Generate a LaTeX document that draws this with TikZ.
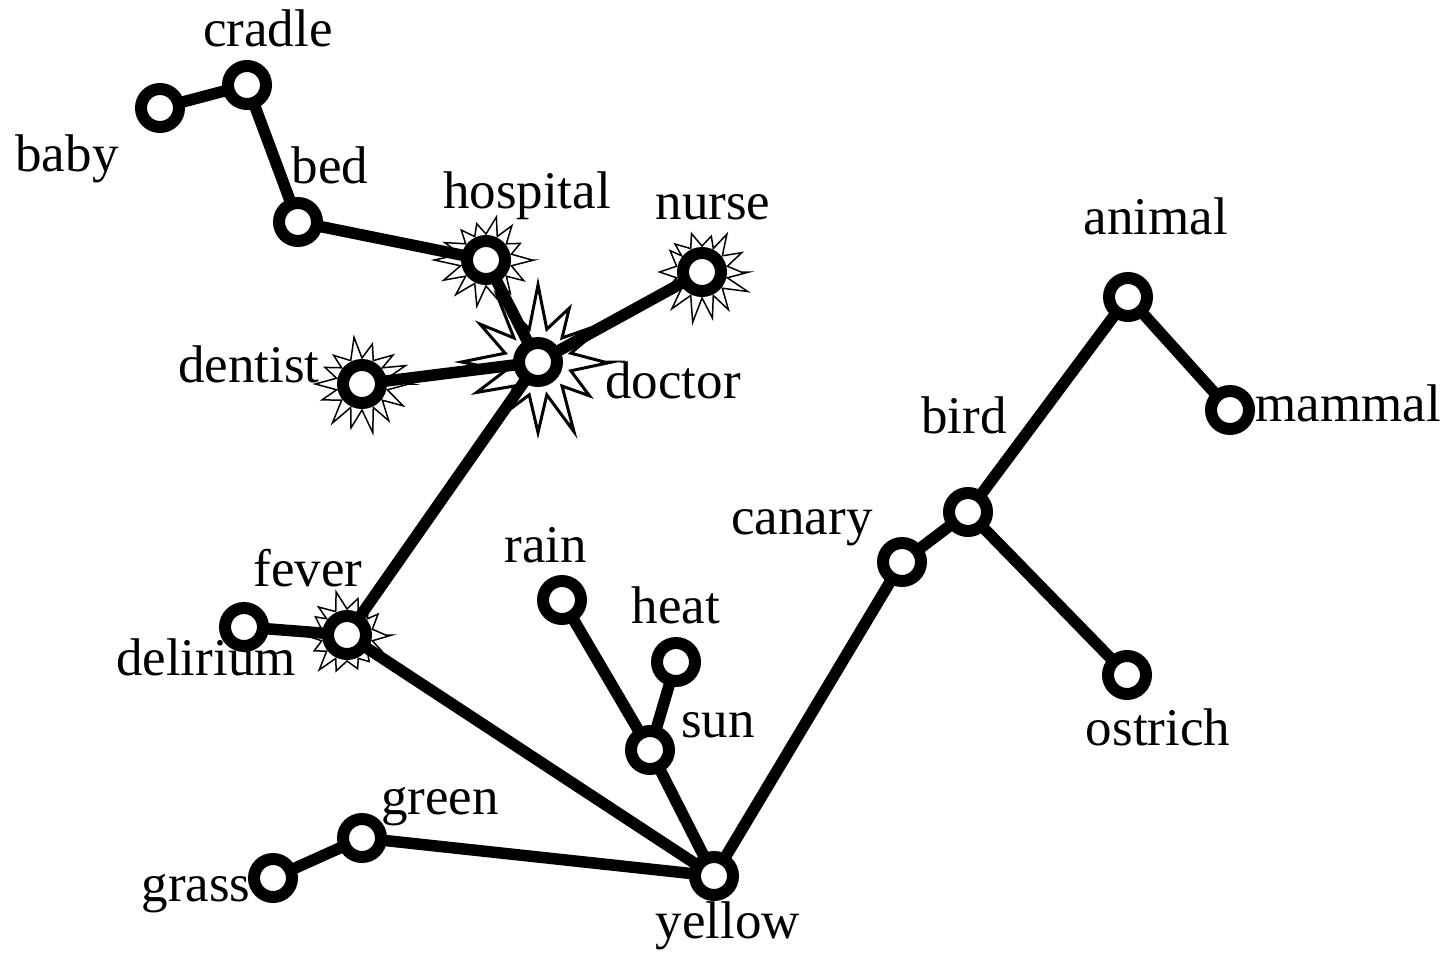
\documentclass[tikz,border=0pt]{standalone}
\usepackage{fontspec}
\setmainfont{Liberation Serif}
\usetikzlibrary{calc}
\pgfdeclarelayer{stars}
\pgfdeclarelayer{bg}
\pgfsetlayers{stars,bg,main}
\tikzset{
  vert/.style={circle,draw=black,fill=white,line width=12pt,inner sep=0pt,minimum size=38pt},
  lbl/.style={inner sep=0pt,font=\fontsize{53}{60}\selectfont},
  edge/.style={line width=11.5pt,black},
  burst/.style={draw=black,fill=white,line width=1.5pt,line join=miter},
}
\newcommand{\myburst}[5]{% center, inner r, outer r, points, seed
  \pgfmathsetseed{#5}
  \draw[burst] ($(#1)+(0:#3)$)
    \foreach \i in {1,...,#4} {
      -- ($(#1)+({(\i-0.5)*360/#4}:{#2})$)
      -- ($(#1)+({\i*360/#4}:{#3*(0.75+0.35*rnd)})$)
    } -- cycle;
}
\begin{document}
\begin{tikzpicture}[x=1pt,y=-1pt]
\useasboundingbox (0,0) rectangle (1451,953);
% vertices
\node[vert] (baby) at (160,108) {};
\node[vert] (cradle) at (247,85) {};
\node[vert] (bed) at (298,222) {};
\node[vert] (hospital) at (486,260) {};
\node[vert] (nurse) at (702,272) {};
\node[vert] (doctor) at (538,362) {};
\node[vert] (dentist) at (362,384) {};
\node[vert] (fever) at (347,635) {};
\node[vert] (delirium) at (244,627) {};
\node[vert] (rain) at (562,600) {};
\node[vert] (heat) at (676,662) {};
\node[vert] (sun) at (650,750) {};
\node[vert] (green) at (362,838) {};
\node[vert] (grass) at (273,878) {};
\node[vert] (yellow) at (714,876) {};
\node[vert] (canary) at (902,562) {};
\node[vert] (bird) at (968,512) {};
\node[vert] (animal) at (1128,297) {};
\node[vert] (mammal) at (1230,410) {};
\node[vert] (ostrich) at (1127,675) {};
% labels
\node[lbl] (lbaby) at (67,159) {baby};
\node[lbl] (lcradle) at (268,28) {cradle};
\node[lbl] (lbed) at (330,165) {bed};
\node[lbl] (lhospital) at (527,196) {hospital};
\node[lbl] (lnurse) at (713,207) {nurse};
\node[lbl] (ldoctor) at (673,380) {doctor};
\node[lbl] (ldentist) at (249,364) {dentist};
\node[lbl] (lfever) at (308,568) {fever};
\node[lbl] (ldelirium) at (206,657) {delirium};
\node[lbl] (lrain) at (546,545) {rain};
\node[lbl] (lheat) at (676,605) {heat};
\node[lbl] (lsun) at (718,725) {sun};
\node[lbl] (lgreen) at (440,807) {green};
\node[lbl] (lgrass) at (196,894) {grass};
\node[lbl] (lyellow) at (728,926) {yellow};
\node[lbl] (lcanary) at (802,528) {canary};
\node[lbl] (lbird) at (964,415) {bird};
\node[lbl] (lanimal) at (1156,216) {animal};
\node[lbl] (lmammal) at (1348,403) {mammal};
\node[lbl] (lostrich) at (1158,727) {ostrich};
% edges
\begin{pgfonlayer}{bg}
\draw[edge] (baby.center) -- (cradle.center);
\draw[edge] (cradle.center) -- (bed.center);
\draw[edge] (bed.center) -- (hospital.center);
\draw[edge] (hospital.center) -- (doctor.center);
\draw[edge] (nurse.center) -- (doctor.center);
\draw[edge] (dentist.center) -- (doctor.center);
\draw[edge] (doctor.center) -- (fever.center);
\draw[edge] (fever.center) -- (delirium.center);
\draw[edge] (fever.center) -- (yellow.center);
\draw[edge] (rain.center) -- (sun.center);
\draw[edge] (heat.center) -- (sun.center);
\draw[edge] (sun.center) -- (yellow.center);
\draw[edge] (green.center) -- (grass.center);
\draw[edge] (green.center) -- (yellow.center);
\draw[edge] (yellow.center) -- (canary.center);
\draw[edge] (canary.center) -- (bird.center);
\draw[edge] (bird.center) -- (animal.center);
\draw[edge] (animal.center) -- (mammal.center);
\draw[edge] (bird.center) -- (ostrich.center);
\end{pgfonlayer}
% starbursts
\begin{pgfonlayer}{stars}
\myburst{hospital}{26}{48}{14}{11}
\myburst{nurse}{26}{47}{14}{23}
\myburst{dentist}{26}{47}{14}{37}
\myburst{fever}{26}{45}{14}{51}
\tikzset{burst/.append style={line width=3pt}}
\myburst{doctor}{34}{74}{12}{7}
\end{pgfonlayer}
\end{tikzpicture}
\end{document}
